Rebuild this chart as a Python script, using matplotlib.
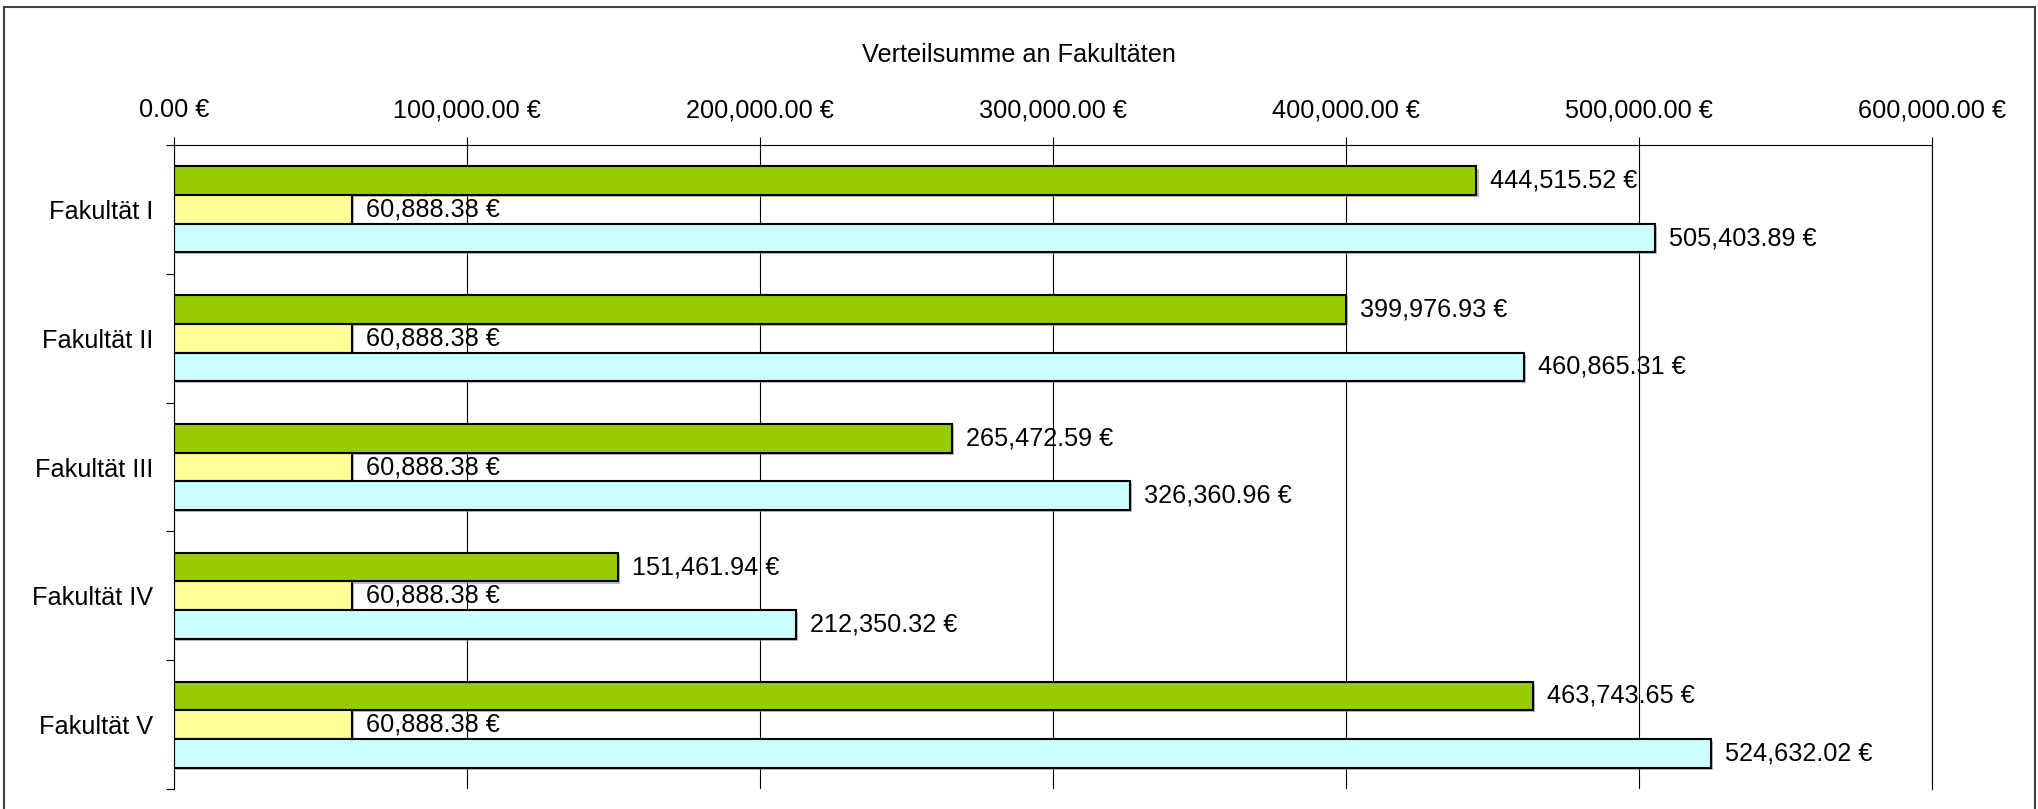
import numpy as np
import matplotlib
matplotlib.use("Agg")
import matplotlib.pyplot as plt
import matplotlib.patheffects as pe
from matplotlib.patches import Rectangle
from matplotlib.ticker import MultipleLocator, FixedLocator, FuncFormatter

plt.rcParams["font.family"] = ["Liberation Sans", "DejaVu Sans"]

# Daten aus dem Diagramm
fakultaeten = ["Fakultät I", "Fakultät II", "Fakultät III", "Fakultät IV", "Fakultät V"]
anteil_leistung = [444515.52, 399976.93, 265472.59, 151461.94, 463743.65]
anteil_sockel = [60888.38, 60888.38, 60888.38, 60888.38, 60888.38]
verteilsumme = [505403.89, 460865.31, 326360.96, 212350.32, 524632.02]

farben = ["#99CC00", "#FFFF99", "#CCFFFF"]
W, H = 2038, 809
fs = 18.2


def euro(v, pos=None):
    return f"{v:,.2f} €"


fig = plt.figure(figsize=(W / 100, H / 100), dpi=100)
ax = fig.add_axes([174 / W, 1 - 789 / H, (1932 - 174) / W, (789 - 145) / H])

y = np.arange(len(fakultaeten))
bh = 1 / 4.5
schatten = [pe.SimplePatchShadow(offset=(1.5, -1.5), shadow_rgbFace="#909090", alpha=0.6), pe.Normal()]

for werte, dy, farbe in zip([anteil_leistung, anteil_sockel, verteilsumme], [-bh, 0, bh], farben):
    bars = ax.barh(y + dy, werte, height=bh, color=farbe, edgecolor="black", linewidth=1.5)
    for b, v in zip(bars, werte):
        b.set_path_effects(schatten)
        ax.annotate(euro(v), (v, b.get_y() + bh / 2), xytext=(10, 0), textcoords="offset points",
                    ha="left", va="center", fontsize=fs, color="black")

ax.set_xlim(0, 600000)
ax.set_ylim(len(fakultaeten) - 0.5, -0.5)

ax.xaxis.tick_top()
ax.xaxis.set_major_locator(MultipleLocator(100000))
ax.xaxis.set_major_formatter(FuncFormatter(euro))
ax.tick_params(axis="x", direction="out", length=5.5, width=0.8, pad=11, labelsize=fs)

ax.yaxis.set_major_locator(FixedLocator(y))
ax.set_yticklabels(fakultaeten)
ax.yaxis.set_minor_locator(FixedLocator(np.arange(-0.5, len(fakultaeten), 1)))
ax.tick_params(axis="y", which="major", length=0, pad=15, labelsize=fs)
ax.tick_params(axis="y", which="minor", direction="out", length=5.5, width=0.8)

ax.grid(axis="x", color="black", linewidth=0.8)
ax.set_axisbelow(True)

ax.spines["bottom"].set_visible(False)
ax.spines["right"].set_linewidth(0.8)
ax.spines["top"].set_linewidth(0.8)
ax.spines["left"].set_linewidth(0.8)

fig.text(0.5, 1 - 62 / H, "Verteilsumme an Fakultäten", ha="center", va="baseline", fontsize=fs)

# Rahmen um das ganze Diagramm
fig.patches.append(Rectangle((4 / W, -0.01), (2035 - 4) / W, 1.01 - 7 / H, transform=fig.transFigure,
                             fill=False, edgecolor="#404040", linewidth=1.5))

fig.savefig("out.png", dpi=100)
